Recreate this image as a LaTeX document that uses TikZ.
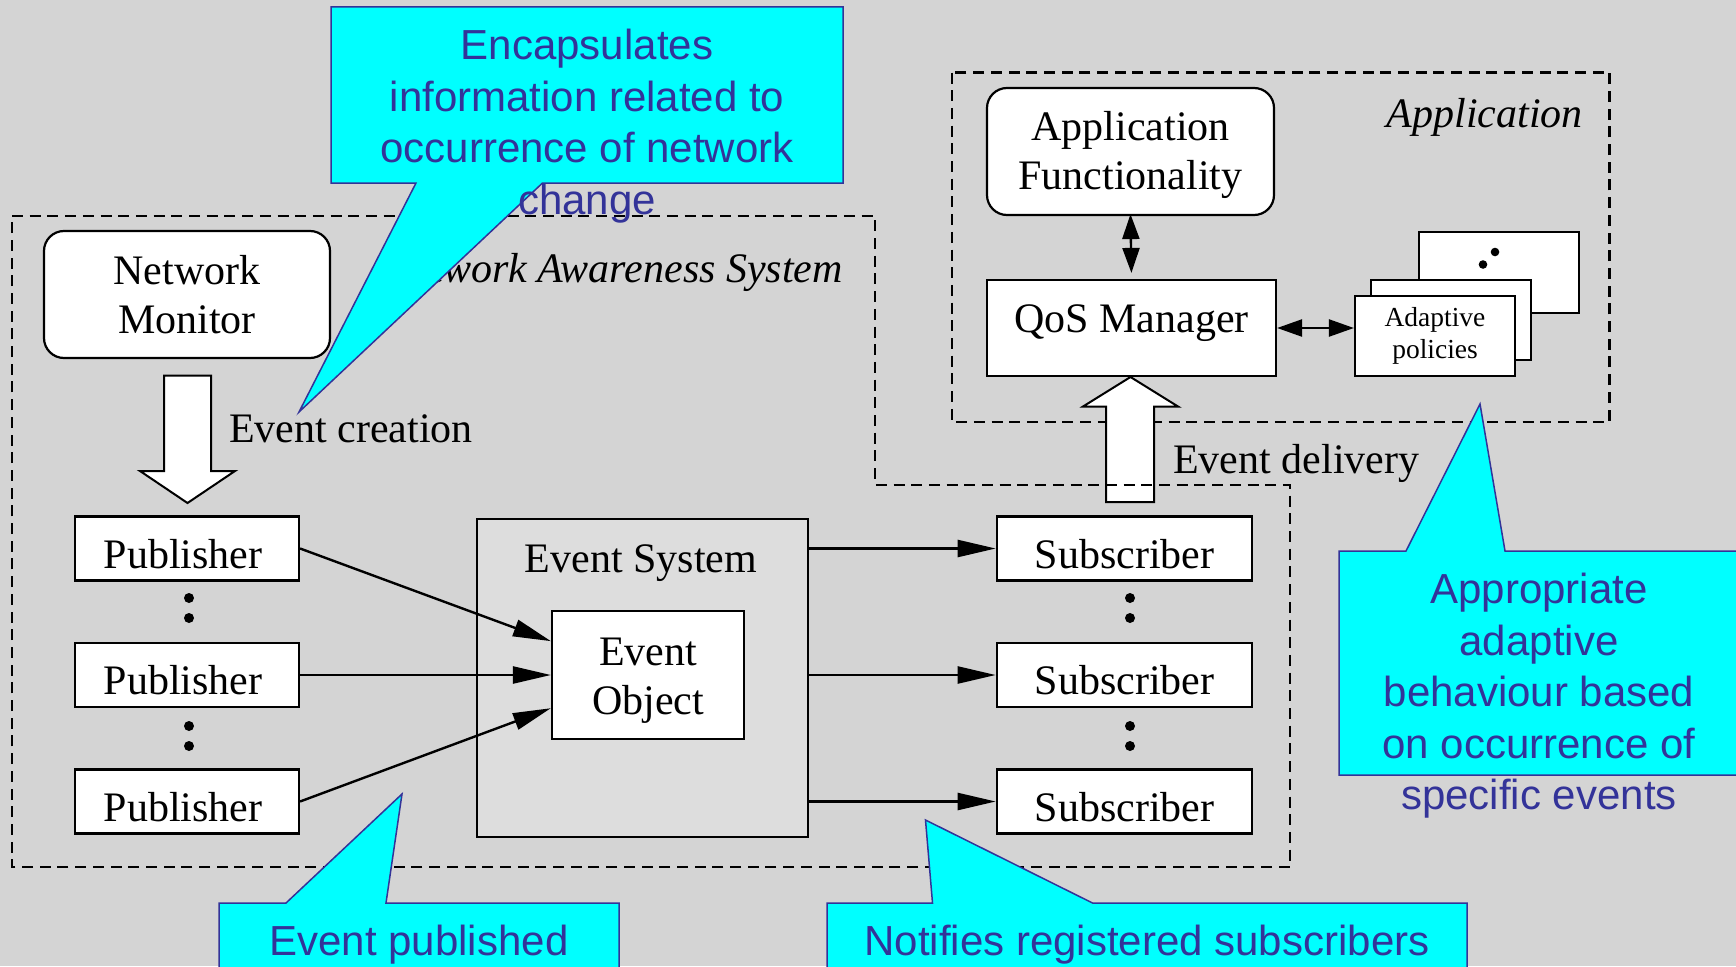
\documentclass[tikz,border=0pt]{standalone}
\usepackage{fontspec}
\setmainfont{Liberation Serif}
\newfontfamily\arialfont{Liberation Sans}
\usetikzlibrary{arrows.meta,calc}
\definecolor{bgray}{RGB}{212,212,212}
\definecolor{esgray}{RGB}{221,221,221}
\definecolor{cyanfill}{RGB}{0,255,255}
\definecolor{cblue}{RGB}{51,51,153}
\begin{document}
\begin{tikzpicture}[x=1pt,y=-1pt,
  box/.style={draw, fill=white, line width=2.2pt, inner sep=0pt, align=center, font=\fontsize{42}{49}\selectfont},
  rbox/.style={box, rounded corners=20pt},
  pubbox/.style={box, minimum width=224pt, minimum height=64pt, text height=39pt, text depth=0pt},
  subbox/.style={box, minimum width=255.5pt, minimum height=64pt, text height=39pt, text depth=0pt},
  dashreg/.style={draw, line width=2.4pt, dash pattern=on 11pt off 6.7pt},
  arr/.style={line width=2.4pt, -{Triangle[length=38pt,width=17pt]}},
  darr/.style={line width=2.4pt, {Triangle[length=25pt,width=17pt]}-{Triangle[length=25pt,width=17pt]}},
  hollow/.style={draw, fill=white, line width=2pt, line join=miter},
  calloutshape/.style={fill=cyanfill, draw=cblue, line width=1.5pt},
  ctext/.style={text=cblue, font=\arialfont\fontsize{42}{51.5}\selectfont, align=center, inner sep=0pt},
  lbl/.style={font=\fontsize{42}{49}\selectfont, inner sep=0pt},
  mlbl/.style={font=\fontsize{42}{49}\selectfont, inner sep=0pt, align=center},
  ilbl/.style={font=\fontsize{42}{49}\selectfont\itshape, inner sep=0pt}
]
\useasboundingbox (0,0) rectangle (1736,966);
\clip (0,0) rectangle (1736,966);
\fill[bgray] (0,0) rectangle (1736,966);

% Application region
\draw[dashreg] (951.7,72.5) rectangle (1609.6,422);
% Event delivery hollow arrow
\draw[hollow] (1106,502) -- (1106,406.5) -- (1083,406.5) -- (1130.5,377) -- (1178,406.5) -- (1154,406.5) -- (1154,502) -- cycle;
% Network Awareness System region
\draw[dashreg] (12,216) -- (875,216) -- (875,485) -- (1290,485) -- (1290,867) -- (12,867) -- cycle;
\node[ilbl, anchor=base east] (nas) at (843,282) {Network Awareness System};
\node[ilbl, anchor=base east] (applbl) at (1583,127) {Application};

% Network monitor and event creation
\node[rbox, minimum width=286pt, minimum height=127pt] (nm) at (187,294.5) {Network\\Monitor};
\draw[hollow] (164,375.5) -- (211,375.5) -- (211,471) -- (235,471) -- (187.5,503) -- (140,471) -- (164,471) -- cycle;
\node[lbl, anchor=base west] (ecr) at (229,442) {Event creation};
\node[lbl, anchor=base west] (edl) at (1173,473) {Event delivery};

% Publishers
\node[pubbox] (p1) at (187,548.5) {Publisher\hspace{8pt}};
\node[pubbox] (p2) at (187,675) {Publisher\hspace{8pt}};
\node[pubbox] (p3) at (187,801.5) {Publisher\hspace{8pt}};
\foreach \yy in {598,618,726,746} \fill (189,\yy) circle (5);

% Event system
\node[box, fill=esgray, minimum width=331pt, minimum height=318pt] (es) at (642.5,678) {};
\node[lbl, anchor=base] (eslbl) at (641,572) {Event System};
\node[box, minimum width=192pt, minimum height=128pt] (eo) at (648,675) {};
\node[mlbl] (eotxt) at (648,681) {Event\\Object};

% Subscribers
\node[subbox] (s1) at (1124.5,548.5) {Subscriber};
\node[subbox] (s2) at (1124.5,675) {Subscriber};
\node[subbox] (s3) at (1124.5,801.5) {Subscriber};
\foreach \yy in {598,618,726,746} \fill (1130,\yy) circle (5);

% Arrows
\draw[arr] (p1.east) -- ($(eo.north west)!0.24!(eo.south west)$);
\draw[arr] (p2.east) -- (eo.west);
\draw[arr] (p3.east) -- ($(eo.north west)!0.755!(eo.south west)$);
\draw[arr] (es.east |- s1.west) -- (s1.west);
\draw[arr] (es.east |- s2.west) -- (s2.west);
\draw[arr] (es.east |- s3.west) -- (s3.west);

% Application part
\node[rbox, minimum width=287pt, minimum height=127pt] (af) at (1130.5,151.5) {};
\node[mlbl] (aftxt) at (1130.5,154.5) {Application\\Functionality};
\node[box, minimum width=289pt, minimum height=96pt, text height=28pt, text depth=20pt] (qos) at (1131.5,328) {QoS Manager};
\node[box, minimum width=160pt, minimum height=81pt] (pol3) at (1499,272.5) {};
\node[box, minimum width=160pt, minimum height=80pt] (pol2) at (1451,320) {};
\node[box, minimum width=160pt, minimum height=80pt, font=\fontsize{27.5}{32}\selectfont] (pol1) at (1435,336) {Adaptive\\policies};
\fill (1495,252) circle (4.3);
\fill (1483,264.5) circle (4.3);
\draw[darr, shorten >=6pt, shorten <=-2pt] (af.south) -- (qos.north);
\draw[darr] (qos.east) -- (qos.east -| pol1.west);

% Callouts
\draw[calloutshape] (331,7) -- (843,7) -- (843,183) -- (542.5,183) -- (299,412) -- (416,183) -- (331,183) -- cycle;
\node[ctext] (c1t) at (587,126) {Encapsulates\\information related to\\occurrence of network\\change};
\draw[calloutshape] (1339,551) -- (1406,551) -- (1480,404) -- (1505,551) -- (1745,551) -- (1745,775) -- (1339,775) -- cycle;
\node[ctext] (c2t) at (1539,696) {Appropriate\\adaptive\\behaviour based\\on occurrence of\\specific events};
\draw[calloutshape] (219,903) -- (286,903) -- (402,794) -- (386,903) -- (619,903) -- (619,975) -- (219,975) -- cycle;
\node[ctext, anchor=base] (c3t) at (419,955) {Event published};
\draw[calloutshape] (827,903) -- (932.5,903) -- (925.5,820) -- (1092.5,903) -- (1467,903) -- (1467,975) -- (827,975) -- cycle;
\node[ctext, anchor=base] (c4t) at (1147,955) {Notifies registered subscribers};
\end{tikzpicture}
\end{document}
